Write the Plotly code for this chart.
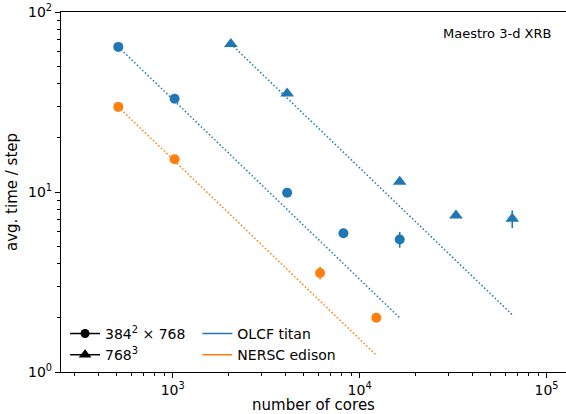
import plotly.graph_objects as go

BLUE = "#1f77b4"
ORANGE = "#ff7f0e"

# OLCF titan, 384^2 x 768
titan_a_cores = [512, 1024, 4096, 8192, 16384]
titan_a_time = [64.0, 33.0, 9.9, 5.9, 5.45]
titan_a_err = [0.3, 0.3, 0.3, 0.35, 0.55]

# OLCF titan, 768^3
titan_b_cores = [2048, 4096, 16384, 32768, 65536]
titan_b_time = [66.5, 35.3, 11.4, 7.4, 7.1]
titan_b_err = [0.3, 0.3, 0.3, 0.2, 0.8]

# NERSC edison, 384^2 x 768
edison_a_cores = [512, 1024, 6144, 12288]
edison_a_time = [29.7, 15.2, 3.55, 2.0]
edison_a_err = [0.3, 0.3, 0.28, 0.05]

# ideal-scaling reference lines (end points)
ideal_titan_a_x = [512, 16384]
ideal_titan_a_y = [64.0, 2.0]
ideal_titan_b_x = [2048, 65536]
ideal_titan_b_y = [66.5, 2.08]
ideal_edison_x = [512, 12288]
ideal_edison_y = [29.7, 1.24]

# tick labels
x_tickvals = [1e3, 1e4, 1e5]
x_ticktext = ["10<sup>3</sup>", "10<sup>4</sup>", "10<sup>5</sup>"]
y_tickvals = [1, 10, 100]
y_ticktext = ["10<sup>0</sup>", "10<sup>1</sup>", "10<sup>2</sup>"]
x_minor = [300, 400, 500, 600, 700, 800, 900,
           2000, 3000, 4000, 5000, 6000, 7000, 8000, 9000,
           20000, 30000, 40000, 50000, 60000, 70000, 80000, 90000]
y_minor = [2, 3, 4, 5, 6, 7, 8, 9, 20, 30, 40, 50, 60, 70, 80, 90]

FONT = "DejaVu Sans"
DOT = "1.5px,2.2px"

fig = go.Figure()

def ideal(x, y, c):
    fig.add_trace(go.Scatter(x=x, y=y, mode="lines", showlegend=False,
                             line=dict(color=c, width=1.5, dash=DOT)))

ideal(ideal_titan_a_x, ideal_titan_a_y, BLUE)
ideal(ideal_titan_b_x, ideal_titan_b_y, BLUE)
ideal(ideal_edison_x, ideal_edison_y, ORANGE)

def pts(x, y, e, c, sym, size):
    fig.add_trace(go.Scatter(x=x, y=y, mode="markers", showlegend=False,
                             marker=dict(color=c, size=size, symbol=sym, line=dict(width=0)),
                             error_y=dict(type="data", array=e, color=c, thickness=1.6, width=0)))

pts(titan_a_cores, titan_a_time, titan_a_err, BLUE, "circle", 10)
pts(titan_b_cores, titan_b_time, titan_b_err, BLUE, "triangle-up", 12)
pts(edison_a_cores, edison_a_time, edison_a_err, ORANGE, "circle", 10)

# legend entries
fig.add_trace(go.Scatter(x=[None], y=[None], mode="lines+markers", name="384<sup>2</sup> × 768",
                         line=dict(color="black", width=1.5), marker=dict(color="black", size=9, symbol="circle"),
                         legend="legend"))
fig.add_trace(go.Scatter(x=[None], y=[None], mode="lines+markers", name="768<sup>3</sup>",
                         line=dict(color="black", width=1.5), marker=dict(color="black", size=11, symbol="triangle-up"),
                         legend="legend"))
fig.add_trace(go.Scatter(x=[None], y=[None], mode="lines", name="OLCF titan",
                         line=dict(color=BLUE, width=1.5), legend="legend2"))
fig.add_trace(go.Scatter(x=[None], y=[None], mode="lines", name="NERSC edison",
                         line=dict(color=ORANGE, width=1.5), legend="legend2"))

axis_common = dict(type="log", showgrid=False, zeroline=False, showline=True, linecolor="black",
                   linewidth=1.2, ticks="outside", ticklen=5, tickwidth=1, tickcolor="black",
                   tickfont=dict(family=FONT, size=14, color="black"), tickmode="array")

fig.update_layout(
    width=566, height=414,
    margin=dict(l=61, r=0, t=12, b=42),
    paper_bgcolor="white", plot_bgcolor="white",
    font=dict(family=FONT, size=14, color="black"),
    xaxis=dict(axis_common, range=[2.4027, 5.104], mirror=True,
               tickvals=x_tickvals, ticktext=x_ticktext,
               minor=dict(tickmode="array", tickvals=x_minor, ticks="outside", ticklen=2.5,
                          tickwidth=0.8, tickcolor="black", showgrid=False),
               title=dict(text="number of cores", font=dict(family=FONT, size=15), standoff=4)),
    yaxis=dict(axis_common, range=[0, 2],
               tickvals=y_tickvals, ticktext=y_ticktext,
               minor=dict(tickmode="array", tickvals=y_minor, ticks="outside", ticklen=2.5,
                          tickwidth=0.8, tickcolor="black", showgrid=False),
               title=dict(text="avg. time / step", font=dict(family=FONT, size=15), standoff=6)),
    legend=dict(x=0.008, y=0.003, xanchor="left", yanchor="bottom", bgcolor="rgba(255,255,255,0)",
                font=dict(family=FONT, size=14), itemwidth=30, tracegroupgap=0),
    legend2=dict(x=0.27, y=0.003, xanchor="left", yanchor="bottom", bgcolor="rgba(255,255,255,0)",
                 font=dict(family=FONT, size=14), itemwidth=30, tracegroupgap=0),
    annotations=[dict(text="Maestro 3-d XRB", x=0.975, y=0.968, xref="paper", yref="paper",
                      xanchor="right", yanchor="top", showarrow=False,
                      font=dict(family=FONT, size=13, color="black"))],
)

fig.write_html("out.html")
